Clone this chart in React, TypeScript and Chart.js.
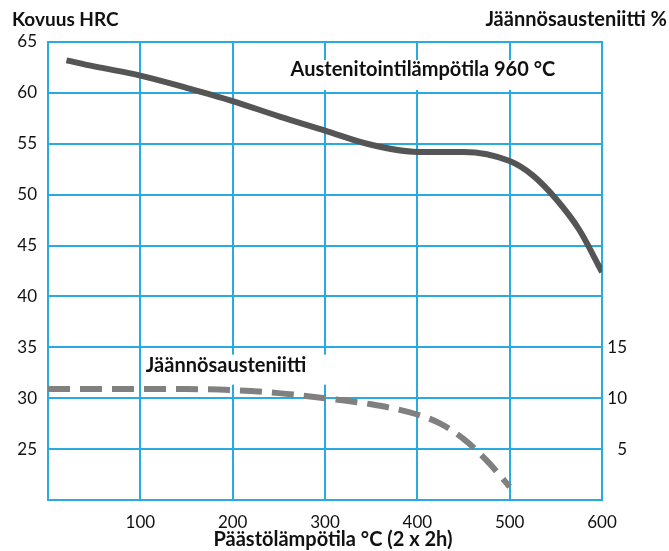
import React, { useEffect, useRef } from 'react';
import { Chart, registerables } from 'chart.js';

Chart.register(...registerables);

// Hardness curve (left axis, HRC) vs tempering temperature
const hardnessX = [20, 50, 100, 150, 200, 250, 300, 350, 400, 450, 500, 525, 550, 575, 600];
const hardnessHRC = [63.2, 62.6, 61.7, 60.5, 59.2, 57.7, 56.3, 54.9, 54.2, 54.2, 53.3, 51.9, 49.6, 46.6, 42.4];

// Retained austenite (right axis, %) vs tempering temperature
const austeniteX = [0, 50, 100, 150, 200, 250, 300, 350, 400, 425, 450, 475, 500];
const austenitePct = [10.9, 10.9, 10.9, 10.9, 10.8, 10.5, 10.0, 9.4, 8.4, 7.5, 6.0, 3.9, 1.3];

const xTickLabels = [100, 200, 300, 400, 500, 600];
const leftTickLabels = [25, 30, 35, 40, 45, 50, 55, 60, 65];
const rightTickLabels = [5, 10, 15];

const leftTitle = 'Kovuus HRC';
const rightTitle = 'Jäännösausteniitti %';
const xTitle = 'Päästölämpötila °C (2 x 2h)';
const hardnessLabel = 'Austenitointilämpötila 960 °C';
const austeniteLabel = 'Jäännösausteniitti';

const FONT = 'Lato, "Open Sans", sans-serif';
const GRID = '#29abe2';

const labelsPlugin = {
  id: 'labelsPlugin',
  beforeDatasetsDraw(chart: any) {
    const { ctx, scales } = chart;
    const x = scales.x;
    const y = scales.y;
    ctx.save();
    ctx.font = `bold 20px ${FONT}`;
    ctx.textBaseline = 'middle';
    ctx.textAlign = 'left';
    const boxes = [
      { text: hardnessLabel, xv: 262.7, yv: 62.25, padL: 10, padR: 10, padT: 10, padB: 20 },
      { text: austeniteLabel, xv: 106, yv: 33.2, padL: 4, padR: 21, padT: 11, padB: 19 },
    ];
    for (const b of boxes) {
      const px = x.getPixelForValue(b.xv);
      const py = y.getPixelForValue(b.yv);
      const w = ctx.measureText(b.text).width;
      ctx.fillStyle = '#ffffff';
      ctx.fillRect(px - b.padL, py - b.padT, w + b.padL + b.padR, b.padT + b.padB);
      ctx.fillStyle = '#111111';
      ctx.fillText(b.text, px, py);
    }
    ctx.restore();
  },
  afterDraw(chart: any) {
    const { ctx, chartArea } = chart;
    ctx.save();
    ctx.fillStyle = '#111111';
    ctx.textBaseline = 'middle';
    ctx.textAlign = 'left';
    ctx.font = `bold 19px ${FONT}`;
    ctx.fillText(leftTitle, 12, 20);
    ctx.font = `bold 20px ${FONT}`;
    ctx.textAlign = 'right';
    ctx.fillText(rightTitle, 667, 20);
    ctx.textAlign = 'center';
    ctx.fillText(xTitle, (chartArea.left + chartArea.right) / 2 + 8, chartArea.bottom + 40);
    ctx.restore();
  },
};

export default function App() {
  const canvasRef = useRef<HTMLCanvasElement | null>(null);

  useEffect(() => {
    document.body.style.margin = '0';
    const canvas = canvasRef.current;
    if (!canvas) return;
    const chart = new Chart(canvas, {
      type: 'line',
      data: {
        datasets: [
          {
            label: 'HRC',
            data: hardnessX.map((v, i) => ({ x: v, y: hardnessHRC[i] })),
            yAxisID: 'y',
            borderColor: '#555555',
            borderWidth: 6,
            pointRadius: 0,
            cubicInterpolationMode: 'monotone',
            borderCapStyle: 'butt',
          },
          {
            label: 'RA',
            data: austeniteX.map((v, i) => ({ x: v, y: austenitePct[i] })),
            yAxisID: 'y2',
            borderColor: '#808080',
            borderWidth: 6,
            borderDash: [22, 10],
            pointRadius: 0,
            cubicInterpolationMode: 'monotone',
            borderCapStyle: 'butt',
          },
        ],
      },
      options: {
        animation: false,
        responsive: false,
        maintainAspectRatio: false,
        layout: { padding: { top: 42, left: 0, right: 42, bottom: 0 } },
        plugins: { legend: { display: false }, tooltip: { enabled: false } },
        scales: {
          x: {
            type: 'linear',
            min: 0,
            max: 600,
            afterFit: (s: any) => { s.height = 51; },
            afterBuildTicks: (s: any) => { s.ticks = [0, ...xTickLabels].map((v) => ({ value: v })); },
            grid: { color: GRID, lineWidth: 2, drawTicks: false },
            border: { color: GRID, width: 2 },
            ticks: {
              padding: 12,
              color: '#111111',
              font: { family: FONT, size: 17 },
              maxRotation: 0,
              autoSkip: false,
              callback: (v: any) => (xTickLabels.includes(Number(v)) ? String(v) : ''),
            },
          },
          y: {
            type: 'linear',
            position: 'left',
            min: 20,
            max: 65,
            afterFit: (s: any) => { s.width = 48; },
            afterBuildTicks: (s: any) => { s.ticks = [20, ...leftTickLabels].map((v) => ({ value: v })); },
            grid: { color: GRID, lineWidth: 2, drawTicks: false },
            border: { color: GRID, width: 2 },
            ticks: {
              padding: 11,
              color: '#111111',
              font: { family: FONT, size: 17 },
              autoSkip: false,
              callback: (v: any) => (leftTickLabels.includes(Number(v)) ? String(v) : ''),
            },
          },
          y2: {
            type: 'linear',
            position: 'right',
            min: 0,
            max: 45,
            afterFit: (s: any) => { s.width = 25; },
            afterBuildTicks: (s: any) => { s.ticks = rightTickLabels.map((v) => ({ value: v })); },
            grid: { display: false, drawTicks: false },
            border: { color: GRID, width: 2 },
            ticks: {
              padding: 6,
              crossAlign: 'far',
              color: '#111111',
              font: { family: FONT, size: 17 },
              autoSkip: false,
              callback: (v: any) => String(v),
            },
          },
        },
      } as any,
      plugins: [labelsPlugin],
    });
    return () => chart.destroy();
  }, []);

  return (
    <div style={{ width: 669, height: 551, position: 'relative' }}>
      <canvas ref={canvasRef} width={669} height={551} style={{ width: 669, height: 551, display: 'block' }} />
    </div>
  );
}
